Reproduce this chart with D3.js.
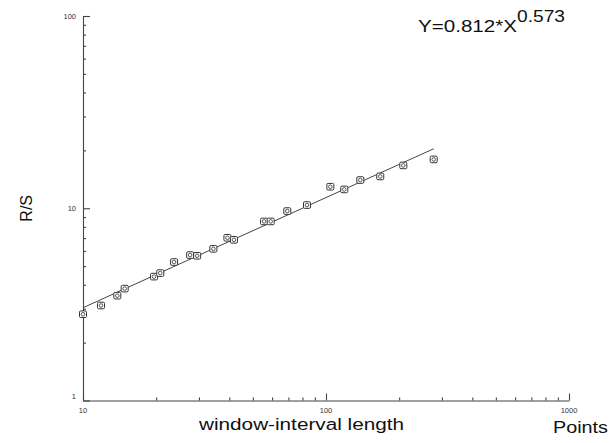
<!DOCTYPE html>
<html><head><meta charset="utf-8">
<script src="https://cdn.jsdelivr.net/npm/d3@7"></script>
<style>body{margin:0;background:#fff}svg{display:block}text{font-family:Arial,"Liberation Sans",sans-serif}</style>
</head><body>
<script>
const windowLength = [10, 11.86, 13.84, 14.84, 19.6, 20.8, 23.7, 27.6, 29.5, 34.4, 39.3, 41.8, 55.6, 59.2, 69.3, 83.5, 104.2, 118.9, 138.4, 167.2, 208, 277.5];
const rsValues = [2.81, 3.12, 3.51, 3.82, 4.41, 4.60, 5.25, 5.71, 5.66, 6.15, 7.02, 6.85, 8.54, 8.54, 9.67, 10.39, 12.94, 12.53, 14.02, 14.64, 16.7, 17.95];
const fitCoef = 0.812, fitExp = 0.573;
const xTickLabels = [10, 100, 1000];
const yTickLabels = [1, 10, 100];

const W = 614, H = 443;
const svg = d3.select("body").append("svg").attr("width", W).attr("height", H);
const x = d3.scaleLog().domain([10, 1000]).range([83, 569]);
const y = d3.scaleLog().domain([1, 100]).range([400.5, 16]);
const axisColor = "#444";

function minorTicks(lo, hi) {
  const out = [];
  for (let d = lo; d < hi; d *= 10) for (let k = 1; k <= 10; k++) out.push(d * k);
  return Array.from(new Set(out.map(v => +v.toPrecision(6))));
}

// X axis (ticks pointing inward/up)
const xAxis = d3.axisBottom(x).tickValues(minorTicks(10, 1000))
  .tickSize(-3).tickSizeOuter(0).tickFormat("");
const gx = svg.append("g").attr("transform", "translate(0,400.5)").call(xAxis);
gx.selectAll(".tick line").attr("stroke", axisColor).attr("stroke-width", 1.1)
  .attr("y2", d => xTickLabels.includes(d) ? -7 : -3);
gx.select(".domain").attr("stroke", axisColor).attr("stroke-width", 1.1);
svg.append("g").selectAll("text").data(xTickLabels).join("text")
  .attr("x", d => x(d)).attr("y", 413).attr("text-anchor", "middle")
  .attr("font-size", 7.5).attr("fill", "#333").text(d => d);

// Y axis (ticks pointing inward/right)
const yAxis = d3.axisLeft(y).tickValues(minorTicks(1, 100))
  .tickSize(-3).tickSizeOuter(0).tickFormat("");
const gy = svg.append("g").attr("transform", "translate(83,0)").call(yAxis);
gy.selectAll(".tick line").attr("stroke", axisColor).attr("stroke-width", 1.1)
  .attr("x2", d => yTickLabels.includes(d) ? 7 : 3);
gy.select(".domain").attr("stroke", axisColor).attr("stroke-width", 1.1);
svg.append("g").selectAll("text").data(yTickLabels).join("text")
  .attr("x", 76).attr("y", d => (d === 1 ? y(d) - 4.5 : y(d)) + 2.7).attr("text-anchor", "end")
  .attr("font-size", 7.5).attr("fill", "#333").text(d => d);

// Fit line
const xs = [windowLength[0], windowLength[windowLength.length - 1]];
svg.append("path")
  .attr("d", d3.line().x(d => x(d)).y(d => y(fitCoef * Math.pow(d, fitExp)))(xs))
  .attr("stroke", "#444").attr("stroke-width", 1).attr("fill", "none");

// Markers
const pts = windowLength.map((v, i) => [v, rsValues[i]]);
const mk = svg.append("g").selectAll("g").data(pts).join("g")
  .attr("transform", d => `translate(${x(d[0])},${y(d[1])})`);
mk.append("rect").attr("x", -3.5).attr("y", -3.3).attr("width", 7).attr("height", 6.6).attr("rx", 1.2)
  .attr("fill", "#fff").attr("stroke", "#333").attr("stroke-width", 1);
mk.append("circle").attr("r", 1.8).attr("fill", "none").attr("stroke", "#444").attr("stroke-width", 0.9);

// Labels
svg.append("text").attr("x", 418).attr("y", 31.7).attr("font-size", 16).attr("fill", "#111")
  .attr("textLength", 99).attr("lengthAdjust", "spacingAndGlyphs").text("Y=0.812*X");
svg.append("text").attr("x", 517).attr("y", 21.7).attr("font-size", 16).attr("fill", "#111")
  .attr("textLength", 48).attr("lengthAdjust", "spacingAndGlyphs").text("0.573");
svg.append("text").attr("x", 199).attr("y", 430).attr("font-size", 16).attr("fill", "#111")
  .attr("textLength", 205).attr("lengthAdjust", "spacingAndGlyphs").text("window-interval length");
svg.append("text").attr("x", 553).attr("y", 433).attr("font-size", 16).attr("fill", "#111")
  .attr("textLength", 55).attr("lengthAdjust", "spacingAndGlyphs").text("Points");
svg.append("text").attr("transform", "translate(31.5,208.3) rotate(-90)").attr("text-anchor", "middle")
  .attr("font-size", 16).attr("fill", "#111").text("R/S");
</script>
</body></html>
